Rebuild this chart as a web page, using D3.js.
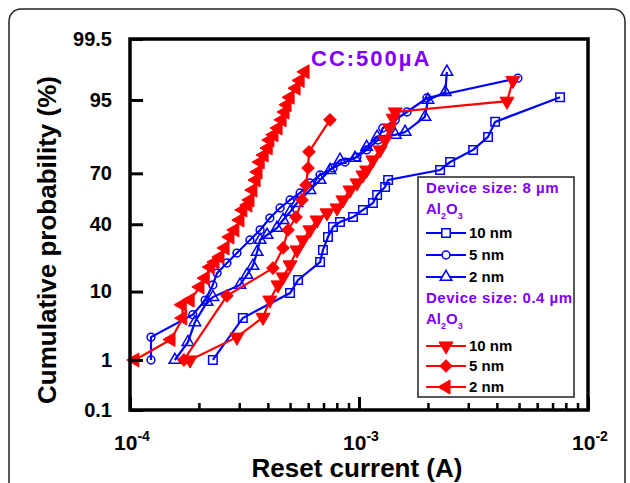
<!DOCTYPE html>
<html>
<head>
<meta charset="utf-8">
<script src="https://cdn.jsdelivr.net/npm/d3@7"></script>
<style>
  body { margin: 0; background: #fff; }
  text { font-family: Arial, "Liberation Sans", sans-serif; font-weight: bold; }
</style>
</head>
<body>
<div id="chart"></div>
<script>
/* CONSTANTS */
const width = 630,
  height = 483,
  margin = { top: 39, right: 42, bottom: 73, left: 130 };

const purple = "#8000ff";

// axis ticks
const xMajor = [1e-4, 1e-3, 1e-2];
const xMajorExp = ["-4", "-3", "-2"];
const yTicks = [0.1, 1, 10, 40, 70, 95, 99.5];
const yTickLabels = ["0.1", "1", "10", "40", "70", "95", "99.5"];

// 8 um device (blue)
const sq10Cur = [2.30e-4, 3.11e-4, 5.0e-4, 5.42e-4, 6.76e-4, 6.96e-4, 7.32e-4, 7.70e-4, 8.26e-4, 9.42e-4, 1.04e-3, 1.15e-3, 1.20e-3, 1.30e-3, 1.34e-3, 2.26e-3, 2.50e-3, 3.15e-3, 3.66e-3, 3.93e-3, 7.55e-3];
const sq10Prob = [1.0, 4.6, 9.6, 13.5, 20.3, 25.9, 32.7, 38.4, 41.3, 44.3, 48.6, 52.8, 57.7, 62.4, 66.4, 71.7, 75.7, 81.1, 86.0, 90.5, 95.4];

const ci5Cur = [1.235e-4, 1.235e-4, 1.88e-4, 2.13e-4, 2.30e-4, 2.40e-4, 2.65e-4, 2.93e-4, 3.34e-4, 3.70e-4, 4.08e-4, 4.52e-4, 5.0e-4, 5.53e-4, 6.11e-4, 6.76e-4, 7.70e-4, 8.69e-4, 9.80e-4, 1.08e-3, 1.21e-3, 1.27e-3, 1.44e-3, 1.62e-3, 1.98e-3, 4.94e-3];
const ci5Prob = [1.0, 2.4, 5.1, 7.9, 11.9, 15.9, 19.9, 24.4, 31.1, 36.7, 43.7, 49.8, 54.7, 58.9, 64.7, 69.1, 72.8, 75.7, 78.0, 81.1, 84.9, 88.8, 91.0, 92.8, 95.3, 97.6];

const tr2Cur = [1.57e-4, 1.79e-4, 1.92e-4, 2.17e-4, 2.30e-4, 3.02e-4, 3.24e-4, 3.44e-4, 3.59e-4, 3.70e-4, 3.97e-4, 4.38e-4, 4.66e-4, 5.0e-4, 5.36e-4, 6.11e-4, 6.76e-4, 7.47e-4, 8.26e-4, 9.61e-4, 1.08e-3, 1.20e-3, 1.44e-3, 1.59e-3, 1.94e-3, 2.00e-3, 2.38e-3, 2.42e-3];
const tr2Prob = [1.0, 2.0, 4.0, 7.5, 8.6, 11.9, 15.2, 18.7, 24.9, 31.1, 33.8, 37.8, 42.5, 47.4, 52.8, 60.6, 66.4, 71.7, 76.7, 77.6, 82.3, 86.0, 86.7, 87.6, 91.7, 95.0, 96.1, 98.1];

// 0.4 um device (red)
const dn10Cur = [1.83e-4, 2.93e-4, 3.81e-4, 4.08e-4, 4.43e-4, 4.66e-4, 5.0e-4, 5.36e-4, 5.69e-4, 6.11e-4, 6.56e-4, 7.25e-4, 8.02e-4, 8.51e-4, 9.14e-4, 9.80e-4, 1.04e-3, 1.08e-3, 1.15e-3, 1.236e-3, 1.30e-3, 1.36e-3, 1.41e-3, 1.44e-3, 4.43e-3, 4.70e-3];
const dn10Prob = [1.0, 2.4, 4.7, 7.9, 11.9, 14.5, 19.1, 25.9, 31.1, 36.7, 42.5, 46.8, 49.8, 54.7, 60.6, 64.7, 69.1, 71.7, 76.7, 81.1, 84.9, 88.8, 91.4, 92.8, 94.8, 97.4];

const di5Cur = [1.72e-4, 2.65e-4, 4.21e-4, 4.66e-4, 4.90e-4, 5.31e-4, 5.64e-4, 5.87e-4, 5.99e-4, 6.05e-4, 7.47e-4];
const di5Prob = [1.0, 8.9, 17.8, 26.9, 36.7, 44.3, 54.7, 63.5, 72.8, 80.3, 91.0];

const lt2Cur = [1.05e-4, 1.51e-4, 1.70e-4, 1.69e-4, 1.83e-4, 2.02e-4, 2.13e-4, 2.24e-4, 2.35e-4, 2.47e-4, 2.60e-4, 2.73e-4, 2.87e-4, 3.02e-4, 3.11e-4, 3.27e-4, 3.34e-4, 3.44e-4, 3.55e-4, 3.62e-4, 3.70e-4, 3.85e-4, 4.01e-4, 4.08e-4, 4.25e-4, 4.43e-4, 4.61e-4, 4.75e-4, 4.85e-4, 5.0e-4, 5.31e-4, 5.53e-4, 5.81e-4];
const lt2Prob = [1.0, 2.2, 4.6, 6.9, 7.9, 11.3, 14.1, 18.2, 20.3, 22.6, 26.9, 32.7, 36.7, 42.5, 48.6, 51.6, 54.7, 60.6, 66.4, 70.7, 75.7, 78.9, 81.9, 84.9, 86.7, 88.8, 91.0, 92.8, 94.2, 95.4, 96.6, 97.4, 98.1];

// series: blue drawn first, red on top
const series = [
  { label: "10 nm", cur: sq10Cur, prob: sq10Prob, color: "#0000ff", symbol: d3.symbolSquare, size: 72, rot: 0, fill: false },
  { label: "5 nm", cur: ci5Cur, prob: ci5Prob, color: "#0000ff", symbol: d3.symbolCircle, size: 48, rot: 0, fill: false },
  { label: "2 nm", cur: tr2Cur, prob: tr2Prob, color: "#0000ff", symbol: d3.symbolTriangle, size: 58, rot: 0, fill: false },
  { label: "10 nm", cur: dn10Cur, prob: dn10Prob, color: "#ff0000", symbol: d3.symbolTriangle, size: 85, rot: 180, fill: true },
  { label: "5 nm", cur: di5Cur, prob: di5Prob, color: "#ff0000", symbol: d3.symbolSquare, size: 76, rot: 45, fill: true },
  { label: "2 nm", cur: lt2Cur, prob: lt2Prob, color: "#ff0000", symbol: d3.symbolTriangle, size: 85, rot: -90, fill: true }
];

// inverse normal CDF (Acklam) for the probability axis
function probit(p) {
  const a = [-3.969683028665376e+01, 2.209460984245205e+02, -2.759285104469687e+02, 1.383577518672690e+02, -3.066479806614716e+01, 2.506628277459239e+00];
  const b = [-5.447609879822406e+01, 1.615858368580409e+02, -1.556989798598866e+02, 6.680131188771972e+01, -1.328068155288572e+01];
  const c = [-7.784894002430293e-03, -3.223964580411365e-01, -2.400758277161838e+00, -2.549732539343734e+00, 4.374664141464968e+00, 2.938163982698783e+00];
  const d = [7.784695709041462e-03, 3.224671290700398e-01, 2.445134137142996e+00, 3.754408661907416e+00];
  const pl = 0.02425;
  let q, r;
  if (p < pl) {
    q = Math.sqrt(-2 * Math.log(p));
    return (((((c[0]*q+c[1])*q+c[2])*q+c[3])*q+c[4])*q+c[5]) / ((((d[0]*q+d[1])*q+d[2])*q+d[3])*q+1);
  }
  if (p > 1 - pl) {
    q = Math.sqrt(-2 * Math.log(1 - p));
    return -(((((c[0]*q+c[1])*q+c[2])*q+c[3])*q+c[4])*q+c[5]) / ((((d[0]*q+d[1])*q+d[2])*q+d[3])*q+1);
  }
  q = p - 0.5; r = q * q;
  return (((((a[0]*r+a[1])*r+a[2])*r+a[3])*r+a[4])*r+a[5])*q / (((((b[0]*r+b[1])*r+b[2])*r+b[3])*r+b[4])*r+1);
}

/* SCALES */
const xScale = d3.scaleLog()
  .domain([1e-4, 1e-2])
  .range([margin.left, width - margin.right]);

const zScale = d3.scaleLinear()
  .domain([probit(0.001), probit(0.995)])
  .range([height - margin.bottom, margin.top]);

const yPos = p => zScale(probit(p / 100));

const svg = d3.select("#chart").append("svg")
  .attr("width", width)
  .attr("height", height);

// outer rounded frame
svg.append("rect")
  .attr("x", 9).attr("y", 9)
  .attr("width", 616).attr("height", 520)
  .attr("rx", 12)
  .attr("fill", "none")
  .attr("stroke", "#222")
  .attr("stroke-width", 1.5);

/* SERIES */
const line = d3.line().x(d => xScale(d[0])).y(d => yPos(d[1]));

series.forEach(s => {
  const pts = s.cur.map((c, i) => [c, s.prob[i]]);
  const g = svg.append("g");
  g.append("path")
    .attr("d", line(pts))
    .attr("fill", "none")
    .attr("stroke", s.color)
    .attr("stroke-width", 2.2);
  g.selectAll("path.mk")
    .data(pts)
    .join("path")
    .attr("class", "mk")
    .attr("d", d3.symbol().type(s.symbol).size(s.size))
    .attr("transform", d => `translate(${xScale(d[0])},${yPos(d[1])}) rotate(${s.rot})`)
    .attr("fill", s.fill ? s.color : "none")
    .attr("stroke", s.color)
    .attr("stroke-width", s.fill ? 1 : 1.5);
});

/* AXES */
const bottomY = height - margin.bottom;

// minor x ticks (inward)
const xMinor = xScale.ticks().filter(v => !xMajor.some(m => Math.abs(m - v) / m < 1e-6));
svg.append("g")
  .attr("transform", `translate(0,${bottomY})`)
  .call(d3.axisBottom(xScale).tickValues(xMinor).tickSizeInner(-7).tickSizeOuter(0).tickFormat(""))
  .call(g => g.select(".domain").remove())
  .call(g => g.selectAll("line").attr("stroke-width", 2.5));

svg.append("g")
  .attr("transform", `translate(0,${bottomY})`)
  .call(d3.axisBottom(xScale).tickValues(xMajor).tickSizeInner(-13).tickSizeOuter(0).tickFormat(""))
  .call(g => g.select(".domain").remove())
  .call(g => g.selectAll("line").attr("stroke-width", 3));

// x tick labels with superscripts
const xl = svg.append("g").selectAll("text")
  .data(xMajor)
  .join("text")
  .attr("x", d => xScale(d) + 2)
  .attr("y", bottomY + 40)
  .attr("text-anchor", "middle")
  .attr("font-size", 21);
xl.append("tspan").text("10");
xl.append("tspan")
  .attr("font-size", 14)
  .attr("dy", -9)
  .text((d, i) => xMajorExp[i]);

// y axis
svg.append("g")
  .attr("transform", `translate(${margin.left},0)`)
  .call(d3.axisLeft(zScale)
    .tickValues(yTicks.map(p => probit(p / 100)))
    .tickSizeInner(-13).tickSizeOuter(0).tickPadding(18)
    .tickFormat((d, i) => yTickLabels[i]))
  .call(g => g.select(".domain").remove())
  .call(g => g.selectAll("line").attr("stroke-width", 3))
  .call(g => g.selectAll("text")
    .attr("font-size", 20)
    .attr("font-family", "Arial, 'Liberation Sans', sans-serif")
    .attr("font-weight", "bold")
    .attr("fill", "#000"));

// plot frame
svg.append("rect")
  .attr("x", margin.left).attr("y", margin.top)
  .attr("width", width - margin.left - margin.right)
  .attr("height", height - margin.top - margin.bottom)
  .attr("fill", "none")
  .attr("stroke", "#000")
  .attr("stroke-width", 3.5);

// axis titles
svg.append("text")
  .attr("x", 357).attr("y", 477)
  .attr("text-anchor", "middle")
  .attr("font-size", 26)
  .text("Reset current (A)");

svg.append("text")
  .attr("transform", "translate(56,240) rotate(-90)")
  .attr("text-anchor", "middle")
  .attr("font-size", 26)
  .text("Cumulative probability (%)");

// CC annotation
svg.append("text")
  .attr("x", 311).attr("y", 66)
  .attr("font-size", 22)
  .attr("letter-spacing", 2)
  .attr("fill", purple)
  .text("CC:500\u00b5A");

/* LEGEND */
const legend = svg.append("g");
legend.append("rect")
  .attr("x", 418).attr("y", 177)
  .attr("width", 156).attr("height", 220)
  .attr("fill", "#fff")
  .attr("stroke", "#222")
  .attr("stroke-width", 1.5);

const headY = [193, 303];
const headTxt = ["Device size: 8 \u00b5m", "Device size: 0.4 \u00b5m"];
const alY = [214, 324];
const entryY = [233, 255, 277, 346, 366, 387];

headTxt.forEach((t, i) => {
  legend.append("text")
    .attr("x", 426).attr("y", headY[i])
    .attr("font-size", 15)
    .attr("letter-spacing", 0.5)
    .attr("fill", purple)
    .text(t);
  const al = legend.append("text")
    .attr("x", 426).attr("y", alY[i])
    .attr("font-size", 15)
    .attr("fill", purple);
  al.append("tspan").text("Al");
  al.append("tspan").attr("font-size", 9).attr("dy", 5).text("2");
  al.append("tspan").attr("dy", -5).text("O");
  al.append("tspan").attr("font-size", 9).attr("dy", 5).text("3");
});

series.forEach((s, i) => {
  const y = entryY[i];
  legend.append("line")
    .attr("x1", 426).attr("x2", 466)
    .attr("y1", y).attr("y2", y)
    .attr("stroke", s.color)
    .attr("stroke-width", 2);
  legend.append("path")
    .attr("d", d3.symbol().type(s.symbol).size(s.size)())
    .attr("transform", `translate(446,${y}) rotate(${s.rot})`)
    .attr("fill", s.fill ? s.color : "#fff")
    .attr("stroke", s.color)
    .attr("stroke-width", s.fill ? 1 : 1.5);
  legend.append("text")
    .attr("x", 469).attr("y", y + 5)
    .attr("font-size", 15)
    .text(s.label);
});
</script>
</body>
</html>
